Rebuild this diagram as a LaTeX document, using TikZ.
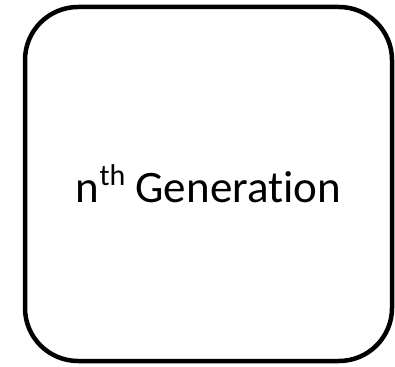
\documentclass[tikz,border=0pt]{standalone}
\usepackage{fontspec}
\setmainfont[Ligatures=NoCommon]{Carlito}
\usetikzlibrary{positioning}

\newcommand{\supth}{\raisebox{17pt}{\fontsize{30}{30}\selectfont th}}

\begin{document}
\begin{tikzpicture}[x=1pt, y=1pt,
    genbox/.style={rectangle, draw=black, line width=4.5pt,
                   minimum width=367pt, minimum height=354pt,
                   rounded corners=53pt, align=center, font=\fontsize{45}{54}\selectfont}]

\useasboundingbox (0,0) rectangle (395,366);

% Generation box
\node[genbox] (gen) at (208.5,182) {n\supth{} Generation};
\end{tikzpicture}
\end{document}
